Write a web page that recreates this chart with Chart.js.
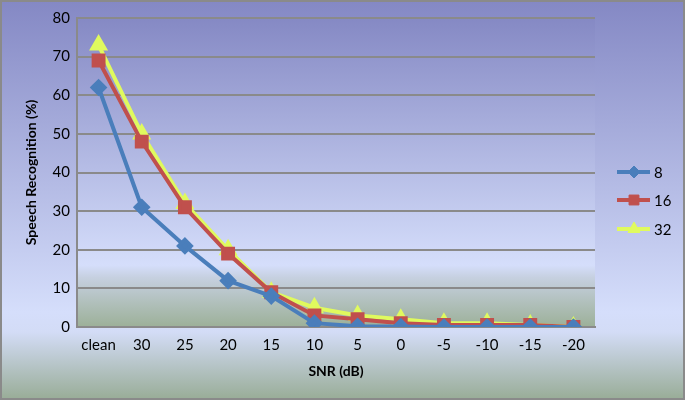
<!DOCTYPE html>
<html>
<head>
<meta charset="utf-8">
<script src="https://cdn.jsdelivr.net/npm/chart.js@4"></script>
<style>
  html, body { margin: 0; padding: 0; }
  #wrap { width: 685px; height: 400px; position: relative; }
</style>
</head>
<body>
<div id="wrap"><canvas id="snrChart"></canvas></div>
<script>
const snrLabels = ["clean", "30", "25", "20", "15", "10", "5", "0", "-5", "-10", "-15", "-20"];
const series8 = [62, 31, 21, 12, 8, 1, 0.2, 0.1, 0, 0, 0, 0];
const series16 = [69, 48, 31, 19, 9, 3, 2, 1, 0.5, 0.5, 0.5, 0];
const series32 = [73, 50, 32, 20, 9, 5, 3, 2, 1, 1, 0.5, 0];
const yTicks = [0, 10, 20, 30, 40, 50, 60, 70, 80];

const fontFamily = "Lato, 'Open Sans', sans-serif";

// background: outer gradient for the whole picture, another one for the plot area
const backgroundPlugin = {
  id: "bgFill",
  beforeDraw(chart) {
    const { ctx, width, height, chartArea } = chart;
    ctx.save();
    let g = ctx.createLinearGradient(0, 0, 0, height);
    g.addColorStop(0, "#8488c4");
    g.addColorStop(0.78, "#d5defb");
    g.addColorStop(0.83, "#d3dcf6");
    g.addColorStop(1, "#98ac96");
    ctx.fillStyle = g;
    ctx.fillRect(0, 0, width, height);

    const { left, top, right, bottom } = chartArea;
    g = ctx.createLinearGradient(0, top, 0, bottom);
    g.addColorStop(0, "#8589c4");
    g.addColorStop(0.8, "#d5defb");
    g.addColorStop(0.84, "#c6d0e0");
    g.addColorStop(1, "#9cb098");
    ctx.fillStyle = g;
    ctx.fillRect(left, top, right - left, bottom - top);

    ctx.strokeStyle = "#8a8a8a";
    ctx.lineWidth = 2;
    ctx.strokeRect(1, 1, width - 2, height - 2);
    ctx.restore();
  }
};

// legend with line + marker, drawn on the right side
const sideLegend = {
  id: "sideLegend",
  afterDraw(chart) {
    const { ctx } = chart;
    const rows = [172, 200, 229];
    ctx.save();
    chart.data.datasets.forEach((ds, i) => {
      const y = rows[i];
      ctx.strokeStyle = ds.borderColor;
      ctx.fillStyle = ds.borderColor;
      ctx.lineWidth = 4;
      ctx.beginPath();
      ctx.moveTo(617, y);
      ctx.lineTo(650, y);
      ctx.stroke();
      ctx.lineWidth = 1;
      Chart.helpers.drawPoint(ctx, {
        pointStyle: ds.pointStyle,
        radius: ds.pointRadius,
        rotation: 0,
        borderWidth: 1
      }, 634, y);
      ctx.fillStyle = "#000";
      ctx.font = "15px " + fontFamily;
      ctx.textBaseline = "middle";
      ctx.fillText(ds.label, 654, y + 1);
    });
    ctx.restore();
  }
};

function makeSet(label, data, color, style, radius) {
  return {
    label: label,
    data: data,
    borderColor: color,
    backgroundColor: color,
    pointBackgroundColor: color,
    pointBorderColor: color,
    borderWidth: 4,
    pointStyle: style,
    pointRadius: radius,
    pointHoverRadius: radius,
    tension: 0
  };
}

const ctx = document.getElementById("snrChart").getContext("2d");
new Chart(ctx, {
  type: "line",
  data: {
    labels: snrLabels,
    datasets: [
      makeSet("8", series8, "#4a7ebb", "rectRot", 6),
      makeSet("16", series16, "#c0504d", "rect", 7),
      makeSet("32", series32, "#e0fa5e", "triangle", 7)
    ]
  },
  options: {
    responsive: true,
    maintainAspectRatio: false,
    animation: false,
    layout: { padding: { left: 23, right: 90, top: 18, bottom: 20 } },
    plugins: {
      legend: { display: false },
      tooltip: { enabled: false }
    },
    scales: {
      x: {
        offset: true,
        grid: { display: false, drawTicks: false },
        border: { color: "#8a8a8a", width: 2 },
        ticks: { color: "#000", font: { family: fontFamily, size: 15 }, padding: 9, maxRotation: 0 },
        title: {
          display: true,
          text: "SNR (dB)",
          color: "#000",
          font: { family: fontFamily, size: 14, weight: "bold" },
          padding: { top: 1, bottom: 0 }
        },
        afterFit(scale) { scale.height = 53; }
      },
      y: {
        min: 0,
        max: 80,
        afterBuildTicks(scale) { scale.ticks = yTicks.map(v => ({ value: v })); },
        grid: { color: "#8a8a8a", lineWidth: 2, drawTicks: false },
        border: { color: "#8a8a8a", width: 2 },
        ticks: { color: "#000", font: { family: fontFamily, size: 15 }, padding: 7 },
        title: {
          display: true,
          text: "Speech Recognition (%)",
          color: "#000",
          font: { family: fontFamily, size: 14, weight: "bold" },
          padding: { top: 0, bottom: 4 }
        },
        afterFit(scale) { scale.width = 54; }
      }
    }
  },
  plugins: [backgroundPlugin, sideLegend]
});
</script>
</body>
</html>
